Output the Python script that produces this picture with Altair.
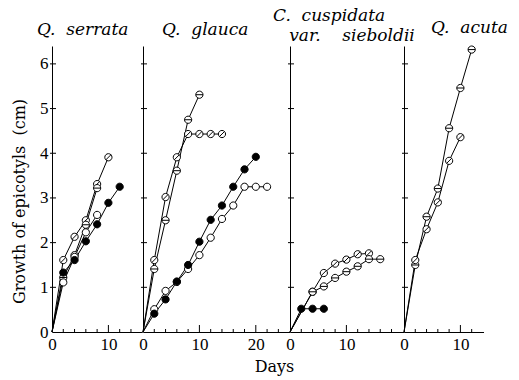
import altair as alt
import pandas as pd

# ---------------- data ----------------
# marker kinds: "slash" = circle with diagonal bar, "bar" = circle with horizontal bar,
# "open" = open circle, "filled" = filled circle

# Q. serrata
serrata_slash_days = [0, 2, 4, 6, 8, 10]
serrata_slash = [0, 1.61, 2.13, 2.50, 3.31, 3.91]
serrata_bar_days = [0, 2, 4, 6, 8]
serrata_bar = [0, 1.22, 1.72, 2.40, 3.22]
serrata_open_days = [0, 2, 4, 6, 8]
serrata_open = [0, 1.11, 1.68, 2.23, 2.62]
serrata_filled_days = [0, 2, 4, 6, 8, 10, 12]
serrata_filled = [0, 1.33, 1.61, 2.03, 2.41, 2.89, 3.25]

# Q. glauca
glauca_slash_days = [0, 2, 4, 6, 8, 10, 12, 14]
glauca_slash = [0, 1.61, 3.02, 3.91, 4.43, 4.43, 4.43, 4.43]
glauca_bar_days = [0, 2, 4, 6, 8, 10]
glauca_bar = [0, 1.41, 2.50, 3.61, 4.75, 5.31]
glauca_open_days = [0, 2, 4, 6, 8, 10, 12, 14, 16, 18, 20, 22]
glauca_open = [0, 0.51, 0.92, 1.12, 1.41, 1.72, 2.11, 2.53, 2.83, 3.25, 3.25, 3.25]
glauca_filled_days = [0, 2, 4, 6, 8, 10, 12, 14, 16, 18, 20]
glauca_filled = [0, 0.41, 0.73, 1.13, 1.50, 2.02, 2.51, 2.83, 3.25, 3.64, 3.92]

# C. cuspidata var. sieboldii
cusp_slash_days = [0, 4, 6, 8, 10, 12, 14]
cusp_slash = [0, 0.90, 1.32, 1.53, 1.62, 1.74, 1.76]
cusp_bar_days = [0, 4, 6, 8, 10, 12, 14, 16]
cusp_bar = [0, 0.90, 1.02, 1.21, 1.35, 1.47, 1.63, 1.63]
cusp_filled_days = [0, 2, 4, 6]
cusp_filled = [0, 0.52, 0.52, 0.52]

# Q. acuta
acuta_bar_days = [0, 2, 4, 6, 8, 10, 12]
acuta_bar = [0, 1.50, 2.58, 3.21, 4.56, 5.46, 6.32]
acuta_slash_days = [0, 2, 4, 6, 8, 10]
acuta_slash = [0, 1.61, 2.30, 2.90, 3.83, 4.36]

# axis tick values
y_tick_values = [1, 2, 3, 4, 5, 6]
y_label_values = [0, 1, 2, 3, 4, 5, 6]

# ---------------- helpers ----------------
kinds = ["slash", "bar", "open", "filled"]
circle = "M-1,0A1,1,0,1,1,1,0A1,1,0,1,1,-1,0Z"
shape_range = [circle + "M-0.72,0.72L0.72,-0.72", circle + "M-1,0L1,0", circle, circle]
fill_range = ["white", "white", "white", "black"]

SERIF = "Liberation Serif"
TSERIF = "DejaVu Serif"
H = 286
PX_PER_DAY = 5.64


def frame(series):
    rows = []
    for name, kind, days, vals in series:
        for d, v in zip(days, vals):
            rows.append({"series": name, "kind": kind, "day": d, "value": v})
    return pd.DataFrame(rows)


def panel(series, xmax, major, minor, title, first=False, xtitle=None):
    df = frame(series)
    width = xmax * PX_PER_DAY
    xscale = alt.Scale(domain=[0, xmax], nice=False, zero=True)
    yscale = alt.Scale(domain=[0, 6.4], nice=False, zero=True)

    xaxis_kw = dict(
        values=[0] + major, ticks=False, tickSize=0, grid=False, domainColor="black",
        domainWidth=1, labelFont=SERIF, labelFontSize=17, labelColor="black",
        labelPadding=4, labelFlush=False, labelOverlap=False, format="d",
    )
    if xtitle:
        xaxis_kw.update(title=xtitle, titleFont=TSERIF, titleFontSize=16,
                        titleFontWeight="normal", titleColor="black",
                        titleX=-16, titleY=39, titleBaseline="alphabetic",
                        titleAlign="center")
    else:
        xaxis_kw.update(title=None)

    if first:
        yaxis = alt.Axis(values=y_label_values, ticks=False, tickSize=0, grid=False,
                         domainColor="black", domainWidth=1, labelFont=SERIF,
                         labelFontSize=17, labelColor="black", labelPadding=4,
                         format="d",
                         title="Growth\u00a0of\u00a0epicotyls\u00a0\u00a0(cm)",
                         titleFont=TSERIF, titleFontSize=16, titleFontWeight="normal",
                         titleColor="black", titleX=-33, titleY=155,
                         titleBaseline="middle", titleAlign="center", titleAngle=-90)
    else:
        yaxis = alt.Axis(values=y_label_values, ticks=False, tickSize=0, grid=False,
                         domainColor="black", domainWidth=1, labels=False, title=None)

    # one table for everything in the panel; tick rows are flagged by "role"
    ticks = pd.DataFrame(
        [{"role": "ytick", "day": 0, "value": v} for v in y_tick_values]
        + [{"role": "minor", "day": d, "value": 0} for d in minor]
        + [{"role": "major", "day": d, "value": 0} for d in major]
    )
    df["role"] = "data"
    full = pd.concat([df, ticks], ignore_index=True)
    base = alt.Chart(full)

    X = alt.X("day:Q", scale=xscale, axis=alt.Axis(**xaxis_kw))
    Y = alt.Y("value:Q", scale=yscale, axis=yaxis)

    lines = base.transform_filter("datum.role == 'data'").mark_line(
        color="black", strokeWidth=1).encode(
        x=X, y=Y, detail="series:N", order="day:Q")
    points = base.transform_filter("datum.role == 'data' && datum.day > 0").mark_point(
        filled=True, stroke="black", strokeWidth=1, size=52, opacity=1
    ).encode(
        x=X, y=Y,
        shape=alt.Shape("kind:N", scale=alt.Scale(domain=kinds, range=shape_range), legend=None),
        fill=alt.Fill("kind:N", scale=alt.Scale(domain=kinds, range=fill_range), legend=None),
    )
    ytick = base.transform_filter("datum.role == 'ytick'").mark_rule(
        color="black", strokeWidth=1).encode(
        y=Y, x=alt.value(-2), x2=alt.value(4))
    xminor = base.transform_filter("datum.role == 'minor'").mark_rule(
        color="black", strokeWidth=1).encode(
        x=X, y=alt.value(H), y2=alt.value(H - 3))
    xmajor = base.transform_filter("datum.role == 'major'").mark_rule(
        color="black", strokeWidth=1).encode(
        x=X, y=alt.value(H), y2=alt.value(H - 7))

    return alt.layer(lines, ytick, xminor, xmajor, points).properties(
        width=width, height=H, title=title)


def ttl(text, dx, offset):
    return alt.TitleParams(text=text, anchor="start", frame="group", dx=dx,
                           offset=offset, baseline="alphabetic", font=TSERIF,
                           fontStyle="italic", fontWeight="normal", fontSize=17,
                           color="black", lineHeight=20)


p1 = panel(
    [("s1", "slash", serrata_slash_days, serrata_slash),
     ("s2", "bar", serrata_bar_days, serrata_bar),
     ("s3", "open", serrata_open_days, serrata_open),
     ("s4", "filled", serrata_filled_days, serrata_filled)],
    16, [10], [2, 4, 6, 8, 12, 14],
    ttl("Q.\u00a0\u00a0serrata", -15, -6), first=True)

p2 = panel(
    [("g1", "slash", glauca_slash_days, glauca_slash),
     ("g2", "bar", glauca_bar_days, glauca_bar),
     ("g3", "open", glauca_open_days, glauca_open),
     ("g4", "filled", glauca_filled_days, glauca_filled)],
    26, [10, 20], [2, 4, 6, 8, 12, 14, 16, 18, 22, 24],
    ttl("Q.\u00a0\u00a0glauca", 19, -6))

p3 = panel(
    [("c1", "slash", cusp_slash_days, cusp_slash),
     ("c2", "bar", cusp_bar_days, cusp_bar),
     ("c3", "filled", cusp_filled_days, cusp_filled)],
    20.2, [10], [2, 4, 6, 8, 12, 14, 16, 18],
    ttl(["C.\u00a0\u00a0cuspidata",
         "\u200b\u00a0\u00a0\u00a0var.\u00a0\u00a0\u00a0\u00a0sieboldii"], -17, -12),
    xtitle="Days")

p4 = panel(
    [("a1", "bar", acuta_bar_days, acuta_bar),
     ("a2", "slash", acuta_slash_days, acuta_slash)],
    14.1, [10], [2, 4, 6, 8, 12],
    ttl("Q.\u00a0\u00a0acuta", 27, -6))

chart = alt.hconcat(p1, p2, p3, p4, spacing=0, bounds="flush").properties(
    padding={"left": 11, "top": 7, "right": 5, "bottom": 5},
    background="white",
).configure_view(stroke=None)

chart.save("out.html", embed_options={"renderer": "svg", "actions": False})
